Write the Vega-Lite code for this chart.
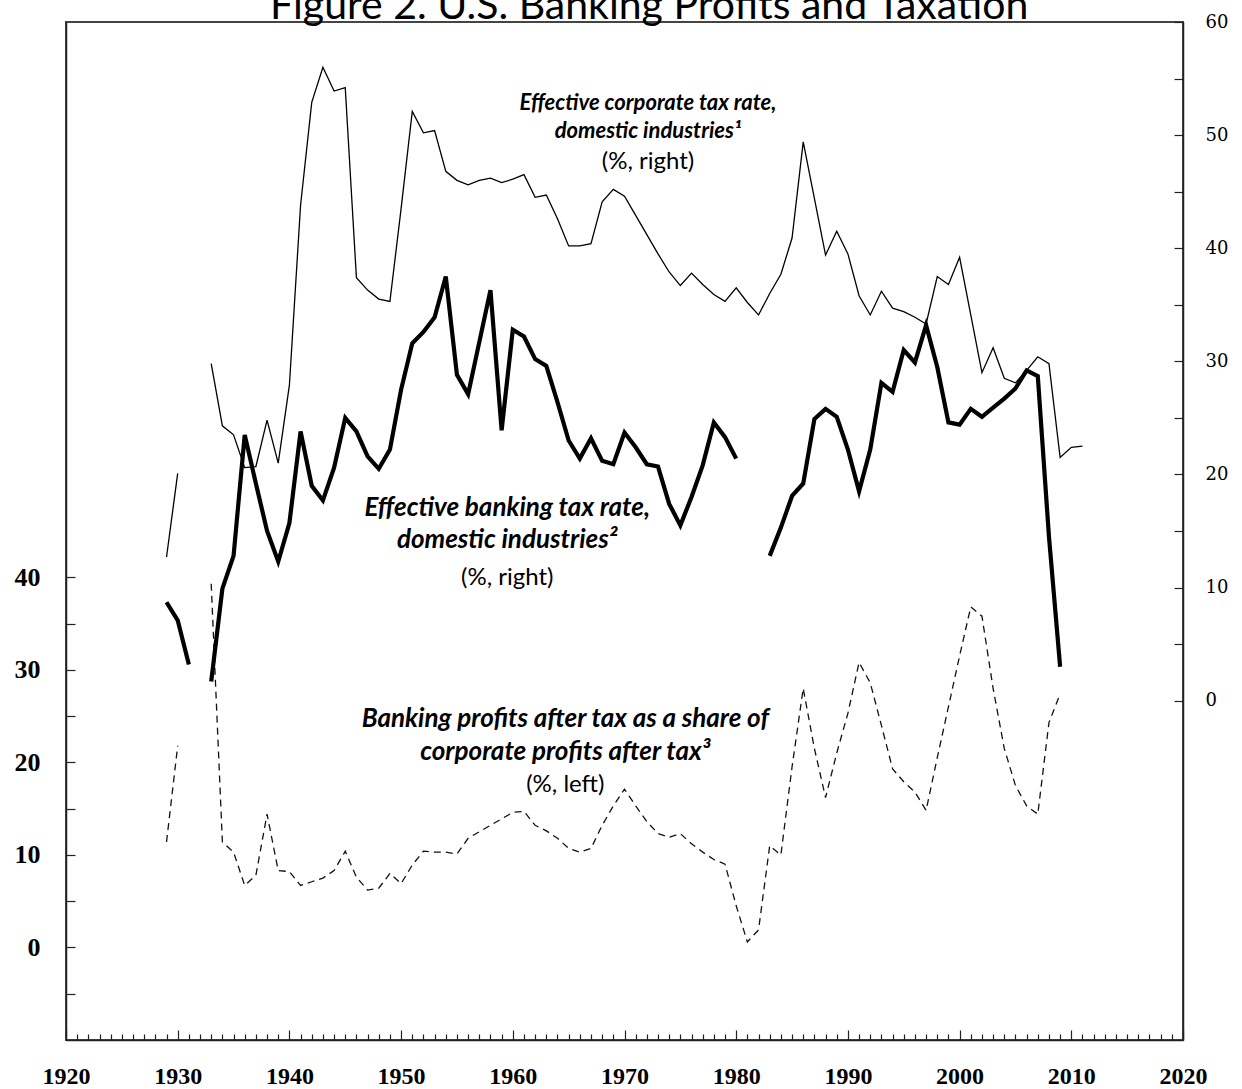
{
  "$schema": "https://vega.github.io/schema/vega-lite/v6.json",
  "width": 1117,
  "height": 1018,
  "autosize": "none",
  "padding": {"left": 66, "top": 22, "right": 59, "bottom": 49},
  "background": "white",
  "config": {
    "view": {"stroke": "#444", "strokeWidth": 2},
    "axis": {"grid": false, "title": null, "domainColor": "#222", "domainWidth": 1.5, "tickColor": "#222", "tickWidth": 1.2, "labelColor": "#000", "labelOverlap": false, "labelFlush": false, "labelBound": false}
  },
  "datasets": {
    "series": [
      {"s": "corp", "g": "c1", "year": 1929, "v": 12.7}, {"s": "corp", "g": "c1", "year": 1930, "v": 20.1},
      {"s": "corp", "g": "c2", "year": 1933, "v": 29.8}, {"s": "corp", "g": "c2", "year": 1934, "v": 24.3}, {"s": "corp", "g": "c2", "year": 1935, "v": 23.5}, {"s": "corp", "g": "c2", "year": 1936, "v": 20.6}, {"s": "corp", "g": "c2", "year": 1937, "v": 20.7}, {"s": "corp", "g": "c2", "year": 1938, "v": 24.8}, {"s": "corp", "g": "c2", "year": 1939, "v": 21.0}, {"s": "corp", "g": "c2", "year": 1940, "v": 27.9},
      {"s": "corp", "g": "c2", "year": 1941, "v": 43.8}, {"s": "corp", "g": "c2", "year": 1942, "v": 52.9}, {"s": "corp", "g": "c2", "year": 1943, "v": 56.0}, {"s": "corp", "g": "c2", "year": 1944, "v": 53.9}, {"s": "corp", "g": "c2", "year": 1945, "v": 54.2}, {"s": "corp", "g": "c2", "year": 1946, "v": 37.4}, {"s": "corp", "g": "c2", "year": 1947, "v": 36.3}, {"s": "corp", "g": "c2", "year": 1948, "v": 35.5}, {"s": "corp", "g": "c2", "year": 1949, "v": 35.3}, {"s": "corp", "g": "c2", "year": 1950, "v": 43.5},
      {"s": "corp", "g": "c2", "year": 1951, "v": 52.1}, {"s": "corp", "g": "c2", "year": 1952, "v": 50.2}, {"s": "corp", "g": "c2", "year": 1953, "v": 50.4}, {"s": "corp", "g": "c2", "year": 1954, "v": 46.8}, {"s": "corp", "g": "c2", "year": 1955, "v": 46.0}, {"s": "corp", "g": "c2", "year": 1956, "v": 45.6}, {"s": "corp", "g": "c2", "year": 1957, "v": 46.0}, {"s": "corp", "g": "c2", "year": 1958, "v": 46.2}, {"s": "corp", "g": "c2", "year": 1959, "v": 45.8}, {"s": "corp", "g": "c2", "year": 1960, "v": 46.1},
      {"s": "corp", "g": "c2", "year": 1961, "v": 46.5}, {"s": "corp", "g": "c2", "year": 1962, "v": 44.5}, {"s": "corp", "g": "c2", "year": 1963, "v": 44.7}, {"s": "corp", "g": "c2", "year": 1964, "v": 42.6}, {"s": "corp", "g": "c2", "year": 1965, "v": 40.2}, {"s": "corp", "g": "c2", "year": 1966, "v": 40.2}, {"s": "corp", "g": "c2", "year": 1967, "v": 40.4}, {"s": "corp", "g": "c2", "year": 1968, "v": 44.1}, {"s": "corp", "g": "c2", "year": 1969, "v": 45.2}, {"s": "corp", "g": "c2", "year": 1970, "v": 44.6},
      {"s": "corp", "g": "c2", "year": 1971, "v": 42.9}, {"s": "corp", "g": "c2", "year": 1972, "v": 41.2}, {"s": "corp", "g": "c2", "year": 1973, "v": 39.5}, {"s": "corp", "g": "c2", "year": 1974, "v": 37.9}, {"s": "corp", "g": "c2", "year": 1975, "v": 36.7}, {"s": "corp", "g": "c2", "year": 1976, "v": 37.8}, {"s": "corp", "g": "c2", "year": 1977, "v": 36.8}, {"s": "corp", "g": "c2", "year": 1978, "v": 35.9}, {"s": "corp", "g": "c2", "year": 1979, "v": 35.3}, {"s": "corp", "g": "c2", "year": 1980, "v": 36.5},
      {"s": "corp", "g": "c2", "year": 1981, "v": 35.2}, {"s": "corp", "g": "c2", "year": 1982, "v": 34.1}, {"s": "corp", "g": "c2", "year": 1983, "v": 36.0}, {"s": "corp", "g": "c2", "year": 1984, "v": 37.7}, {"s": "corp", "g": "c2", "year": 1985, "v": 40.9}, {"s": "corp", "g": "c2", "year": 1986, "v": 49.4}, {"s": "corp", "g": "c2", "year": 1987, "v": 44.4}, {"s": "corp", "g": "c2", "year": 1988, "v": 39.4}, {"s": "corp", "g": "c2", "year": 1989, "v": 41.5}, {"s": "corp", "g": "c2", "year": 1990, "v": 39.5},
      {"s": "corp", "g": "c2", "year": 1991, "v": 35.8}, {"s": "corp", "g": "c2", "year": 1992, "v": 34.1}, {"s": "corp", "g": "c2", "year": 1993, "v": 36.2}, {"s": "corp", "g": "c2", "year": 1994, "v": 34.7}, {"s": "corp", "g": "c2", "year": 1995, "v": 34.4}, {"s": "corp", "g": "c2", "year": 1996, "v": 33.9}, {"s": "corp", "g": "c2", "year": 1997, "v": 33.3}, {"s": "corp", "g": "c2", "year": 1998, "v": 37.5}, {"s": "corp", "g": "c2", "year": 1999, "v": 36.8}, {"s": "corp", "g": "c2", "year": 2000, "v": 39.2},
      {"s": "corp", "g": "c2", "year": 2001, "v": 34.1}, {"s": "corp", "g": "c2", "year": 2002, "v": 29.0}, {"s": "corp", "g": "c2", "year": 2003, "v": 31.2}, {"s": "corp", "g": "c2", "year": 2004, "v": 28.5}, {"s": "corp", "g": "c2", "year": 2005, "v": 28.1}, {"s": "corp", "g": "c2", "year": 2006, "v": 29.2}, {"s": "corp", "g": "c2", "year": 2007, "v": 30.4}, {"s": "corp", "g": "c2", "year": 2008, "v": 29.8}, {"s": "corp", "g": "c2", "year": 2009, "v": 21.5}, {"s": "corp", "g": "c2", "year": 2010, "v": 22.4}, {"s": "corp", "g": "c2", "year": 2011, "v": 22.5},

      {"s": "bank", "g": "b1", "year": 1929, "v": 8.7}, {"s": "bank", "g": "b1", "year": 1930, "v": 7.1}, {"s": "bank", "g": "b1", "year": 1931, "v": 3.2},
      {"s": "bank", "g": "b2", "year": 1933, "v": 1.7}, {"s": "bank", "g": "b2", "year": 1934, "v": 9.9}, {"s": "bank", "g": "b2", "year": 1935, "v": 12.8}, {"s": "bank", "g": "b2", "year": 1936, "v": 23.5}, {"s": "bank", "g": "b2", "year": 1937, "v": 19.2}, {"s": "bank", "g": "b2", "year": 1938, "v": 15.0}, {"s": "bank", "g": "b2", "year": 1939, "v": 12.3}, {"s": "bank", "g": "b2", "year": 1940, "v": 15.7},
      {"s": "bank", "g": "b2", "year": 1941, "v": 23.8}, {"s": "bank", "g": "b2", "year": 1942, "v": 19.0}, {"s": "bank", "g": "b2", "year": 1943, "v": 17.7}, {"s": "bank", "g": "b2", "year": 1944, "v": 20.6}, {"s": "bank", "g": "b2", "year": 1945, "v": 25.0}, {"s": "bank", "g": "b2", "year": 1946, "v": 23.8}, {"s": "bank", "g": "b2", "year": 1947, "v": 21.6}, {"s": "bank", "g": "b2", "year": 1948, "v": 20.5}, {"s": "bank", "g": "b2", "year": 1949, "v": 22.2}, {"s": "bank", "g": "b2", "year": 1950, "v": 27.5},
      {"s": "bank", "g": "b2", "year": 1951, "v": 31.6}, {"s": "bank", "g": "b2", "year": 1952, "v": 32.6}, {"s": "bank", "g": "b2", "year": 1953, "v": 33.9}, {"s": "bank", "g": "b2", "year": 1954, "v": 37.5}, {"s": "bank", "g": "b2", "year": 1955, "v": 28.8}, {"s": "bank", "g": "b2", "year": 1956, "v": 27.1}, {"s": "bank", "g": "b2", "year": 1957, "v": 31.7}, {"s": "bank", "g": "b2", "year": 1958, "v": 36.3}, {"s": "bank", "g": "b2", "year": 1959, "v": 23.9}, {"s": "bank", "g": "b2", "year": 1960, "v": 32.8},
      {"s": "bank", "g": "b2", "year": 1961, "v": 32.2}, {"s": "bank", "g": "b2", "year": 1962, "v": 30.2}, {"s": "bank", "g": "b2", "year": 1963, "v": 29.6}, {"s": "bank", "g": "b2", "year": 1964, "v": 26.4}, {"s": "bank", "g": "b2", "year": 1965, "v": 23.0}, {"s": "bank", "g": "b2", "year": 1966, "v": 21.4}, {"s": "bank", "g": "b2", "year": 1967, "v": 23.2}, {"s": "bank", "g": "b2", "year": 1968, "v": 21.2}, {"s": "bank", "g": "b2", "year": 1969, "v": 20.9}, {"s": "bank", "g": "b2", "year": 1970, "v": 23.7},
      {"s": "bank", "g": "b2", "year": 1971, "v": 22.4}, {"s": "bank", "g": "b2", "year": 1972, "v": 20.9}, {"s": "bank", "g": "b2", "year": 1973, "v": 20.7}, {"s": "bank", "g": "b2", "year": 1974, "v": 17.4}, {"s": "bank", "g": "b2", "year": 1975, "v": 15.5}, {"s": "bank", "g": "b2", "year": 1976, "v": 18.0}, {"s": "bank", "g": "b2", "year": 1977, "v": 20.8}, {"s": "bank", "g": "b2", "year": 1978, "v": 24.6}, {"s": "bank", "g": "b2", "year": 1979, "v": 23.3}, {"s": "bank", "g": "b2", "year": 1980, "v": 21.4},
      {"s": "bank", "g": "b3", "year": 1983, "v": 12.8}, {"s": "bank", "g": "b3", "year": 1984, "v": 15.3}, {"s": "bank", "g": "b3", "year": 1985, "v": 18.1}, {"s": "bank", "g": "b3", "year": 1986, "v": 19.2}, {"s": "bank", "g": "b3", "year": 1987, "v": 24.9}, {"s": "bank", "g": "b3", "year": 1988, "v": 25.8}, {"s": "bank", "g": "b3", "year": 1989, "v": 25.1}, {"s": "bank", "g": "b3", "year": 1990, "v": 22.2},
      {"s": "bank", "g": "b3", "year": 1991, "v": 18.5}, {"s": "bank", "g": "b3", "year": 1992, "v": 22.2}, {"s": "bank", "g": "b3", "year": 1993, "v": 28.1}, {"s": "bank", "g": "b3", "year": 1994, "v": 27.3}, {"s": "bank", "g": "b3", "year": 1995, "v": 31.0}, {"s": "bank", "g": "b3", "year": 1996, "v": 29.9}, {"s": "bank", "g": "b3", "year": 1997, "v": 33.2}, {"s": "bank", "g": "b3", "year": 1998, "v": 29.5}, {"s": "bank", "g": "b3", "year": 1999, "v": 24.6}, {"s": "bank", "g": "b3", "year": 2000, "v": 24.4},
      {"s": "bank", "g": "b3", "year": 2001, "v": 25.8}, {"s": "bank", "g": "b3", "year": 2002, "v": 25.1}, {"s": "bank", "g": "b3", "year": 2003, "v": 25.9}, {"s": "bank", "g": "b3", "year": 2004, "v": 26.7}, {"s": "bank", "g": "b3", "year": 2005, "v": 27.6}, {"s": "bank", "g": "b3", "year": 2006, "v": 29.2}, {"s": "bank", "g": "b3", "year": 2007, "v": 28.7}, {"s": "bank", "g": "b3", "year": 2008, "v": 14.5}, {"s": "bank", "g": "b3", "year": 2009, "v": 3.0},

      {"s": "share", "g": "s1", "year": 1929, "v": 11.4}, {"s": "share", "g": "s1", "year": 1930, "v": 21.8},
      {"s": "share", "g": "s2", "year": 1933, "v": 39.3}, {"s": "share", "g": "s2", "year": 1934, "v": 11.4}, {"s": "share", "g": "s2", "year": 1935, "v": 10.3}, {"s": "share", "g": "s2", "year": 1936, "v": 6.7}, {"s": "share", "g": "s2", "year": 1937, "v": 7.8}, {"s": "share", "g": "s2", "year": 1938, "v": 14.4}, {"s": "share", "g": "s2", "year": 1939, "v": 8.3}, {"s": "share", "g": "s2", "year": 1940, "v": 8.2},
      {"s": "share", "g": "s2", "year": 1941, "v": 6.7}, {"s": "share", "g": "s2", "year": 1942, "v": 7.1}, {"s": "share", "g": "s2", "year": 1943, "v": 7.5}, {"s": "share", "g": "s2", "year": 1944, "v": 8.3}, {"s": "share", "g": "s2", "year": 1945, "v": 10.4}, {"s": "share", "g": "s2", "year": 1946, "v": 7.6}, {"s": "share", "g": "s2", "year": 1947, "v": 6.2}, {"s": "share", "g": "s2", "year": 1948, "v": 6.4}, {"s": "share", "g": "s2", "year": 1949, "v": 8.0}, {"s": "share", "g": "s2", "year": 1950, "v": 6.9},
      {"s": "share", "g": "s2", "year": 1951, "v": 8.9}, {"s": "share", "g": "s2", "year": 1952, "v": 10.4}, {"s": "share", "g": "s2", "year": 1953, "v": 10.3}, {"s": "share", "g": "s2", "year": 1954, "v": 10.3}, {"s": "share", "g": "s2", "year": 1955, "v": 10.1}, {"s": "share", "g": "s2", "year": 1956, "v": 11.8}, {"s": "share", "g": "s2", "year": 1957, "v": 12.5}, {"s": "share", "g": "s2", "year": 1958, "v": 13.2}, {"s": "share", "g": "s2", "year": 1959, "v": 13.9}, {"s": "share", "g": "s2", "year": 1960, "v": 14.6},
      {"s": "share", "g": "s2", "year": 1961, "v": 14.7}, {"s": "share", "g": "s2", "year": 1962, "v": 13.2}, {"s": "share", "g": "s2", "year": 1963, "v": 12.6}, {"s": "share", "g": "s2", "year": 1964, "v": 11.8}, {"s": "share", "g": "s2", "year": 1965, "v": 10.7}, {"s": "share", "g": "s2", "year": 1966, "v": 10.3}, {"s": "share", "g": "s2", "year": 1967, "v": 10.7}, {"s": "share", "g": "s2", "year": 1968, "v": 13.2}, {"s": "share", "g": "s2", "year": 1969, "v": 15.3}, {"s": "share", "g": "s2", "year": 1970, "v": 17.1},
      {"s": "share", "g": "s2", "year": 1971, "v": 15.3}, {"s": "share", "g": "s2", "year": 1972, "v": 13.6}, {"s": "share", "g": "s2", "year": 1973, "v": 12.3}, {"s": "share", "g": "s2", "year": 1974, "v": 11.9}, {"s": "share", "g": "s2", "year": 1975, "v": 12.3}, {"s": "share", "g": "s2", "year": 1976, "v": 11.2}, {"s": "share", "g": "s2", "year": 1977, "v": 10.3}, {"s": "share", "g": "s2", "year": 1978, "v": 9.5}, {"s": "share", "g": "s2", "year": 1979, "v": 9.0}, {"s": "share", "g": "s2", "year": 1980, "v": 4.5},
      {"s": "share", "g": "s2", "year": 1981, "v": 0.6}, {"s": "share", "g": "s2", "year": 1982, "v": 1.9}, {"s": "share", "g": "s2", "year": 1983, "v": 11.0}, {"s": "share", "g": "s2", "year": 1984, "v": 10.0}, {"s": "share", "g": "s2", "year": 1985, "v": 19.5}, {"s": "share", "g": "s2", "year": 1986, "v": 28.0}, {"s": "share", "g": "s2", "year": 1987, "v": 21.5}, {"s": "share", "g": "s2", "year": 1988, "v": 16.2}, {"s": "share", "g": "s2", "year": 1989, "v": 21.0}, {"s": "share", "g": "s2", "year": 1990, "v": 25.3},
      {"s": "share", "g": "s2", "year": 1991, "v": 30.8}, {"s": "share", "g": "s2", "year": 1992, "v": 28.6}, {"s": "share", "g": "s2", "year": 1993, "v": 24.0}, {"s": "share", "g": "s2", "year": 1994, "v": 19.3}, {"s": "share", "g": "s2", "year": 1995, "v": 17.9}, {"s": "share", "g": "s2", "year": 1996, "v": 16.8}, {"s": "share", "g": "s2", "year": 1997, "v": 14.8}, {"s": "share", "g": "s2", "year": 1998, "v": 20.5}, {"s": "share", "g": "s2", "year": 1999, "v": 26.0}, {"s": "share", "g": "s2", "year": 2000, "v": 31.5},
      {"s": "share", "g": "s2", "year": 2001, "v": 36.8}, {"s": "share", "g": "s2", "year": 2002, "v": 35.8}, {"s": "share", "g": "s2", "year": 2003, "v": 28.0}, {"s": "share", "g": "s2", "year": 2004, "v": 21.5}, {"s": "share", "g": "s2", "year": 2005, "v": 17.5}, {"s": "share", "g": "s2", "year": 2006, "v": 15.3}, {"s": "share", "g": "s2", "year": 2007, "v": 14.4}, {"s": "share", "g": "s2", "year": 2008, "v": 24.3}, {"s": "share", "g": "s2", "year": 2009, "v": 27.4}
    ],
    "notes": [
      {"label": "Figure 2. U.S. Banking Profits and Taxation", "part": "title", "box": "t", "year": 1972.2, "v": 100.32},
      {"label": "Effective corporate tax rate,", "part": "name", "box": "a", "year": 1972.1, "v": 91.2},
      {"label": "domestic industries¹", "part": "name", "box": "a", "year": 1972.1, "v": 88.2},
      {"label": "(%, right)", "part": "unit", "box": "a", "year": 1972.1, "v": 84.9},
      {"label": "Effective banking tax rate,", "part": "name", "box": "b", "year": 1959.5, "v": 47.5},
      {"label": "domestic industries²", "part": "name", "box": "b", "year": 1959.5, "v": 44.0},
      {"label": "(%, right)", "part": "unit", "box": "b", "year": 1959.5, "v": 39.9},
      {"label": "Banking profits after tax as a share of", "part": "name", "box": "c", "year": 1964.7, "v": 24.7},
      {"label": "corporate profits after tax³", "part": "name", "box": "c", "year": 1964.7, "v": 21.1},
      {"label": "(%, left)", "part": "unit", "box": "c", "year": 1964.7, "v": 17.6}
    ]
  },
  "layer": [
    {
      "encoding": {
        "x": {"field": "year", "type": "quantitative", "scale": {"domain": [1920, 2020], "nice": false, "zero": false},
          "axis": {"orient": "bottom", "tickCount": 100, "labelExpr": "datum.value % 10 === 0 ? '' + datum.value : ''",
            "tickSize": {"condition": {"test": "datum.value % 10 === 0", "value": -10}, "value": -6},
            "labelFont": "Liberation Serif", "labelFontWeight": "bold", "labelFontSize": 24, "labelPadding": 34}},
        "y": {"field": "v", "type": "quantitative", "scale": {"domain": [-10, 100], "nice": false, "zero": false},
          "axis": {"orient": "left", "values": [-5, 0, 5, 10, 15, 20, 25, 30, 35, 40], "tickSize": -9,
            "labelExpr": "datum.value % 10 === 0 ? '' + datum.value : ''",
            "labelFont": "Liberation Serif", "labelFontWeight": "bold", "labelFontSize": 26, "labelPadding": 35}}
      },
      "layer": [
        {"data": {"name": "series"}, "transform": [{"filter": "datum.s === 'share'"}],
          "mark": {"type": "line", "color": "#111", "strokeWidth": 1.3, "strokeDash": [7, 5]},
          "encoding": {"detail": {"field": "g", "type": "nominal"}}},
        {"data": {"name": "notes"}, "transform": [{"filter": "datum.part === 'title'"}],
          "mark": {"type": "text", "font": "Lato", "fontSize": 41, "color": "#000", "align": "center", "baseline": "alphabetic"},
          "encoding": {"text": {"field": "label", "type": "nominal"}}},
        {"data": {"name": "notes"}, "transform": [{"filter": "datum.part === 'name' && datum.box === 'a'"}],
          "mark": {"type": "text", "font": "Lato", "fontSize": 22, "fontStyle": "italic", "fontWeight": "bold", "color": "#000", "align": "center", "baseline": "middle"},
          "encoding": {"text": {"field": "label", "type": "nominal"}}},
        {"data": {"name": "notes"}, "transform": [{"filter": "datum.part === 'name' && datum.box !== 'a'"}],
          "mark": {"type": "text", "font": "Lato", "fontSize": 26, "fontStyle": "italic", "fontWeight": "bold", "color": "#000", "align": "center", "baseline": "middle"},
          "encoding": {"text": {"field": "label", "type": "nominal"}}},
        {"data": {"name": "notes"}, "transform": [{"filter": "datum.part === 'unit'"}],
          "mark": {"type": "text", "font": "Lato", "fontSize": 24, "color": "#000", "align": "center", "baseline": "middle"},
          "encoding": {"text": {"field": "label", "type": "nominal"}}}
      ]
    },
    {
      "data": {"name": "series"},
      "transform": [{"filter": "datum.s !== 'share'"}],
      "mark": {"type": "line", "color": "#000"},
      "encoding": {
        "x": {"field": "year", "type": "quantitative"},
        "y": {"field": "v", "type": "quantitative", "scale": {"domain": [-30, 60], "nice": false, "zero": false},
          "axis": {"orient": "right", "values": [0, 5, 10, 15, 20, 25, 30, 35, 40, 45, 50, 55, 60], "tickSize": -9,
            "labelExpr": "datum.value % 10 === 0 ? '' + datum.value : ''",
            "labelFont": "DejaVu Serif", "labelFontSize": 18, "labelPadding": 31}},
        "strokeWidth": {"field": "s", "type": "nominal", "scale": {"domain": ["corp", "bank"], "range": [1.3, 4.2]}, "legend": null},
        "detail": {"field": "g", "type": "nominal"}
      }
    }
  ],
  "resolve": {"scale": {"y": "independent"}}
}
